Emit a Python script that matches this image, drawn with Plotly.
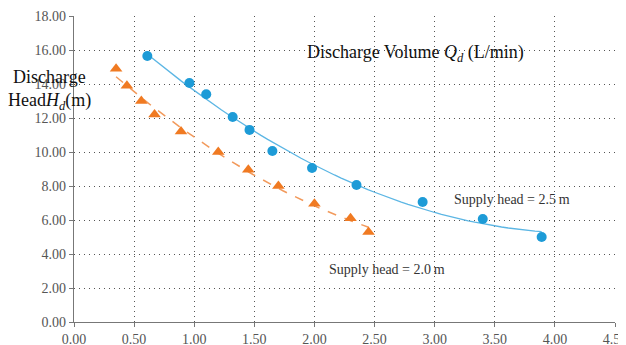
import numpy as np
import plotly.graph_objects as go

# Supply head = 2.5 m
q_25 = [0.61, 0.96, 1.10, 1.32, 1.46, 1.65, 1.98, 2.35, 2.90, 3.40, 3.89]
h_25 = [15.65, 14.06, 13.4, 12.06, 11.3, 10.06, 9.06, 8.06, 7.06, 6.06, 5.0]
# Supply head = 2.0 m
q_20 = [0.35, 0.44, 0.56, 0.67, 0.89, 1.20, 1.45, 1.70, 2.00, 2.30, 2.45]
h_20 = [14.9, 13.9, 13.0, 12.2, 11.2, 10.0, 8.95, 8.0, 6.95, 6.1, 5.3]

x_ticks = [0, 0.5, 1, 1.5, 2, 2.5, 3, 3.5, 4, 4.5]
y_ticks = [0, 2, 4, 6, 8, 10, 12, 14, 16, 18]

blue = "#1d9bd7"
blue_line = "#5cb6e4"
orange = "#f07a22"
orange_line = "#f29a5c"

def fit(x, y, deg=2):
    c = np.polyfit(x, y, deg)
    xs = np.linspace(min(x), max(x), 60)
    return xs, np.polyval(c, xs)

fx25, fy25 = fit(q_25, h_25)
fx20, fy20 = fit(q_20, h_20)

fig = go.Figure()
fig.add_trace(go.Scatter(x=fx25, y=fy25, mode="lines",
                         line=dict(color=blue_line, width=1.3), showlegend=False, hoverinfo="skip"))
fig.add_trace(go.Scatter(x=fx20, y=fy20, mode="lines",
                         line=dict(color=orange_line, width=1.5, dash="dash"), showlegend=False, hoverinfo="skip"))
fig.add_trace(go.Scatter(x=q_25, y=h_25, mode="markers",
                         marker=dict(color=blue, size=10, symbol="circle"), showlegend=False))
fig.add_trace(go.Scatter(x=q_20, y=h_20, mode="markers",
                         marker=dict(color=orange, size=11, symbol="triangle-up"), showlegend=False))

font_serif = "Liberation Serif, Times New Roman, serif"
grid_dash = "1px,4px"

# page body adds an 8px offset; plot area targets x 74..615, y 16..322 in the window
fig.update_layout(
    width=618, height=337,
    margin=dict(l=66, r=11, t=8, b=23),
    paper_bgcolor="white", plot_bgcolor="white",
    font=dict(family=font_serif, color="#555555", size=14),
    xaxis=dict(range=[0, 4.5], tickvals=x_ticks, ticktext=[f"{v:.2f}" for v in x_ticks],
               showgrid=True, gridcolor="#555555", gridwidth=1, griddash=grid_dash,
               showline=True, linecolor="#777777", linewidth=1.2, automargin=False,
               ticklabeloverflow="allow",
               ticks="outside", ticklen=4, tickcolor="#777777", zeroline=False),
    yaxis=dict(range=[0, 18], tickvals=y_ticks, ticktext=[f"{v:.2f}" for v in y_ticks],
               showgrid=True, gridcolor="#555555", gridwidth=1, griddash=grid_dash,
               showline=True, linecolor="#777777", linewidth=1.2, automargin=False,
               ticks="outside", ticklen=4, tickcolor="#777777", zeroline=False),
    annotations=[
        dict(x=2.84, y=15.8, xref="x", yref="y", showarrow=False,
             text="Discharge Volume <i>Q<sub>d</sub></i> (L/min)",
             font=dict(family=font_serif, size=18, color="#111111")),
        dict(x=-0.0444, y=0.80, xref="paper", yref="paper", showarrow=False,
             xanchor="center", yanchor="middle", text="Discharge",
             font=dict(family=font_serif, size=18, color="#111111")),
        dict(x=-0.0444, y=0.722, xref="paper", yref="paper", showarrow=False,
             xanchor="center", yanchor="middle", text="Head<i>H<sub>d</sub></i>(m)",
             font=dict(family=font_serif, size=18, color="#111111")),
        dict(x=3.64, y=7.2, xref="x", yref="y", showarrow=False,
             text="Supply head = 2.5\u2009m",
             font=dict(family=font_serif, size=14, color="#333333")),
        dict(x=2.6, y=3.06, xref="x", yref="y", showarrow=False,
             text="Supply head = 2.0\u2009m",
             font=dict(family=font_serif, size=14, color="#333333")),
    ],
)

fig.write_html("out.html")
